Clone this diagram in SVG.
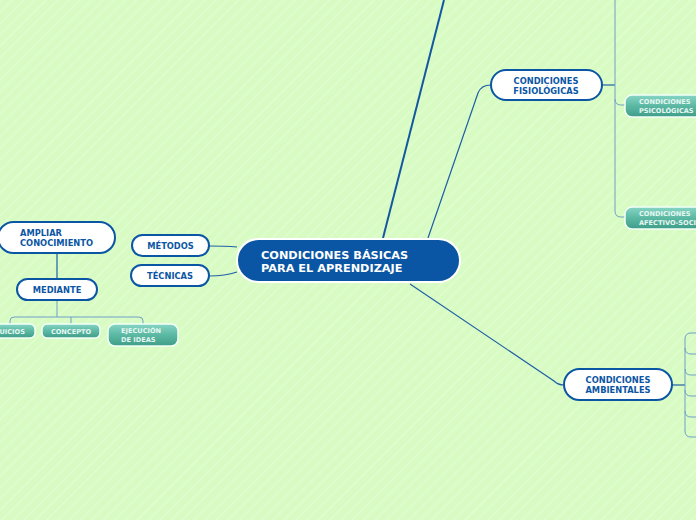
<svg xmlns="http://www.w3.org/2000/svg" width="696" height="520" viewBox="0 0 696 520">
<defs>
<pattern id="stripes" width="8" height="8" patternUnits="userSpaceOnUse" patternTransform="rotate(45)">
<rect width="8" height="8" fill="#d8fbc4"/>
<rect width="1.5" height="8" fill="#dffdcf"/>
</pattern>
<linearGradient id="teal" x1="0" y1="0" x2="0" y2="1">
<stop offset="0" stop-color="#86d6c4"/>
<stop offset="0.5" stop-color="#5bb8a3"/>
<stop offset="1" stop-color="#3e9d88"/>
</linearGradient>
<style>
.main{fill:#0b56a4;stroke:#ffffff;stroke-width:2}
.node{fill:#ffffff;stroke:#0b56a4;stroke-width:2}
.sub{fill:url(#teal);stroke:#f4fff8;stroke-width:1.5}
.tm{font-family:"DejaVu Sans",Verdana,sans-serif;font-weight:bold;font-size:11.3px;fill:#ffffff}
.tn{font-family:"DejaVu Sans",Verdana,sans-serif;font-weight:bold;font-size:8.3px;fill:#0b56a4}
.ts{font-family:"DejaVu Sans",Verdana,sans-serif;font-weight:bold;font-size:6.6px;fill:#e6f7f2}
.thick{fill:none;stroke:#1558a2;stroke-width:2}
.mid{fill:none;stroke:#1f5fa6;stroke-width:1.2}
.thin{fill:none;stroke:#6f9fc6;stroke-width:1}
</style>
</defs>
<rect width="696" height="520" fill="url(#stripes)"/>
<g id="connectors">
<path class="thick" d="M383 238 L444 0"/>
<path class="mid" d="M428 238 L478 93 Q481 85 491 85"/>
<path class="mid" d="M410 284 L554 381 Q558 385 564 385"/>
<path class="mid" d="M237 247 Q225 246 209 246"/>
<path class="mid" d="M237 272 Q225 276 209 276"/>
<path class="mid" d="M602 85 L615 85"/>
<path class="thin" d="M615 0 L615 211 Q615 217 621 217 L625 217"/>
<path class="thin" d="M615 99 Q615 105 621 105 L625 105"/>
<path class="mid" d="M672 385 L685 385"/>
<path class="thin" d="M696 333 L691 333 Q685 333 685 339 L685 431 Q685 437 691 437 L696 437"/>
<path class="thin" d="M685 348 Q685 354 691 354 L696 354"/>
<path class="thin" d="M685 369 Q685 375 691 375 L696 375"/>
<path class="thin" d="M685 390 Q685 396 691 396 L696 396"/>
<path class="thin" d="M685 411 Q685 417 691 417 L696 417"/>
<path class="mid" d="M57 253 L57 279"/>
<path class="thin" d="M57 300 L57 317"/>
<path class="thin" d="M10 325 L10 321 Q10 317 14 317 L139 317 Q143 317 143 321 L143 325"/>
<path class="thin" d="M71 317 L71 325"/>
</g>
<g id="central">
<rect class="main" x="237" y="239" width="223" height="43" rx="21.5"/>
<text class="tm" x="261" y="259">CONDICIONES BÁSICAS</text>
<text class="tm" x="261" y="272">PARA EL APRENDIZAJE</text>
</g>
<g id="metodos">
<rect class="node" x="132" y="235" width="77" height="21" rx="10.5"/>
<text class="tn" x="170.5" y="249" text-anchor="middle">MÉTODOS</text>
</g>
<g id="tecnicas">
<rect class="node" x="131" y="265" width="78" height="21" rx="10.5"/>
<text class="tn" x="170" y="279" text-anchor="middle">TÉCNICAS</text>
</g>
<g id="ampliar">
<rect class="node" x="-2" y="222" width="117" height="31" rx="15.5"/>
<text class="tn" x="20" y="236">AMPLIAR</text>
<text class="tn" x="20" y="246">CONOCIMIENTO</text>
</g>
<g id="mediante">
<rect class="node" x="17" y="279" width="80" height="21" rx="10.5"/>
<text class="tn" x="57" y="293" text-anchor="middle">MEDIANTE</text>
</g>
<g id="juicios">
<rect class="sub" x="-10" y="324" width="45" height="14" rx="5"/>
<text class="ts" x="-3" y="334">JUICIOS</text>
</g>
<g id="concepto">
<rect class="sub" x="42" y="324" width="58" height="14" rx="5"/>
<text class="ts" x="71" y="334" text-anchor="middle">CONCEPTO</text>
</g>
<g id="ejecucion">
<rect class="sub" x="108" y="324" width="70" height="22" rx="7"/>
<text class="ts" x="121" y="333">EJECUCIÓN</text>
<text class="ts" x="121" y="342">DE IDEAS</text>
</g>
<g id="fisiologicas">
<rect class="node" x="491" y="70" width="111" height="30" rx="15"/>
<text class="tn" x="546" y="84" text-anchor="middle">CONDICIONES</text>
<text class="tn" x="546" y="93.5" text-anchor="middle">FISIOLÓGICAS</text>
</g>
<g id="psicologicas">
<rect class="sub" x="625" y="95" width="80" height="22" rx="7"/>
<text class="ts" x="639" y="104">CONDICIONES</text>
<text class="ts" x="639" y="112.5">PSICOLÓGICAS</text>
</g>
<g id="afectivo">
<rect class="sub" x="625" y="207" width="80" height="22" rx="7"/>
<text class="ts" x="639" y="216">CONDICIONES</text>
<text class="ts" x="639" y="224.5">AFECTIVO-SOCIALES</text>
</g>
<g id="ambientales">
<rect class="node" x="564" y="369" width="108" height="31" rx="15.5"/>
<text class="tn" x="618" y="383" text-anchor="middle">CONDICIONES</text>
<text class="tn" x="618" y="393" text-anchor="middle">AMBIENTALES</text>
</g>
</svg>
